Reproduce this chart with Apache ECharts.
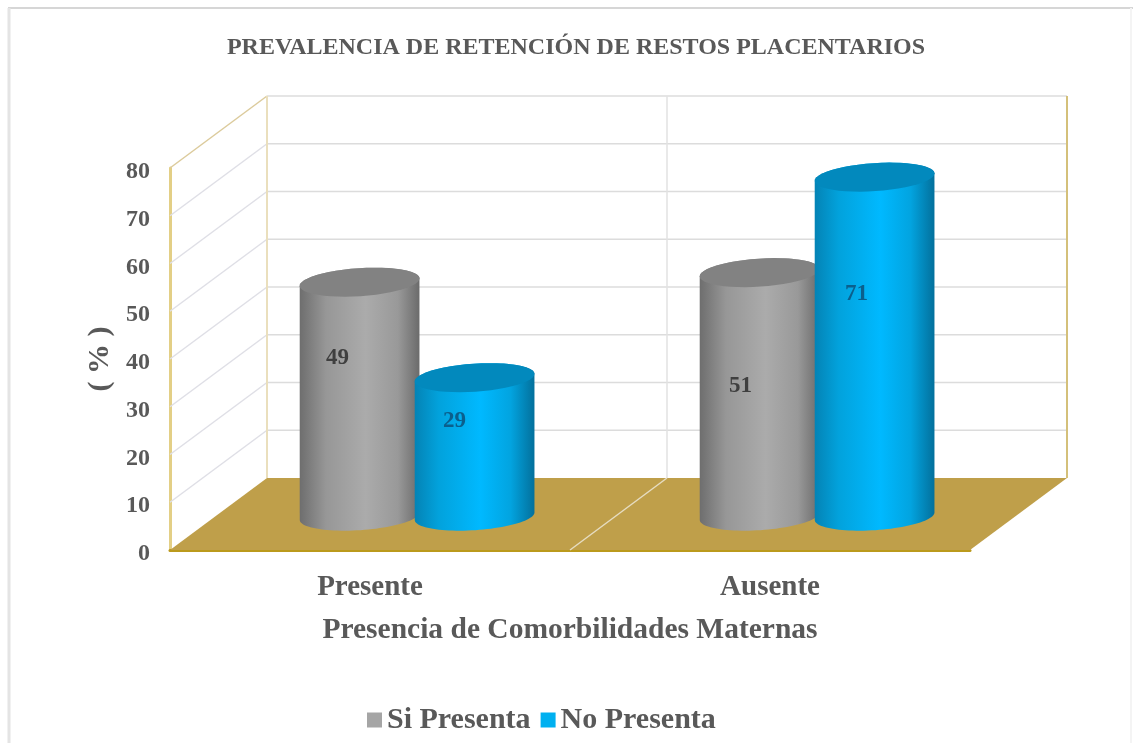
<!DOCTYPE html>
<html>
<head>
<meta charset="utf-8">
<title>Prevalencia</title>
<style>
  html, body { margin: 0; padding: 0; background: #fff; }
  #chart { width: 1133px; height: 743px; }
</style>
<script src="https://cdn.jsdelivr.net/npm/echarts@6/dist/echarts.min.js"></script>
</head>
<body>
<div id="chart"></div>
<script>
// data
const categories = ['Presente', 'Ausente']
const siPresenta = [49, 51]
const noPresenta = [29, 71]
const yTicks = [10, 20, 30, 40, 50, 60, 70, 80]

// fake 3d layout, in pixels
const DEPTH_X = 97
const DEPTH_Y = 72
const BAR_DEPTH = 0.47 // where the cylinders stand between front and back of the floor
const RX = 60
const RY = 14
const TILT = 0.066
const TEXT = '#595959'
const FONT = '"Liberation Serif", "Times New Roman", serif'
// the labels were placed by hand in the original: drop from the cylinder top, shift from its centre
const LABEL_DROP = [[76, 113], [43, 117]]
const LABEL_SHIFT = [[-22, -19], [-20, -18]]

const tiltedEllipse = (cx, cy, from, to) => {
  const pts = []
  for (let i = 0; i <= 48; i++) {
    const t = from + (to - from) * i / 48
    const ex = RX * Math.cos(t)
    const ey = RY * Math.sin(t)
    pts.push([cx + ex * Math.cos(TILT) + ey * Math.sin(TILT), cy - ex * Math.sin(TILT) + ey * Math.cos(TILT)])
  }
  return pts
}

const sideGradient = stops => new echarts.graphic.LinearGradient(0, 0, 1, 0, stops.map(s => ({ offset: s[0], color: s[1] })))

const cylinder = (barOffset, sideStops, topColor, labelColor, seriesIndex) => (params, api) => {
  const i = api.value(0)
  const base = api.coord([i, 0])
  const top = api.coord([i, api.value(1)])
  const cx = base[0] + DEPTH_X * BAR_DEPTH + barOffset
  const by = base[1] - DEPTH_Y * BAR_DEPTH
  const ty = top[1] - DEPTH_Y * BAR_DEPTH
  const body = tiltedEllipse(cx, ty, Math.PI, 2 * Math.PI).concat(tiltedEllipse(cx, by, 0, Math.PI))
  return {
    type: 'group',
    children: [
      { type: 'polygon', shape: { points: body }, style: { fill: sideGradient(sideStops) } },
      { type: 'polygon', shape: { points: tiltedEllipse(cx, ty, 0, 2 * Math.PI) }, style: { fill: topColor } },
      {
        type: 'text',
        x: cx + LABEL_SHIFT[seriesIndex][i],
        y: ty + LABEL_DROP[seriesIndex][i],
        style: {
          text: String(api.value(1)),
          fill: labelColor,
          font: 'bold 23px ' + FONT,
          align: 'center',
          verticalAlign: 'middle'
        }
      }
    ]
  }
}

const chart = echarts.init(document.getElementById('chart'), null, { renderer: 'canvas' })

chart.setOption({
  animation: false,
  backgroundColor: '#fff',
  title: {
    text: 'PREVALENCIA DE RETENCIÓN DE RESTOS PLACENTARIOS',
    left: 571,
    top: 31,
    textAlign: 'center',
    textStyle: { fontFamily: FONT, fontWeight: 'bold', fontSize: 24, color: TEXT }
  },
  graphic: [
    { type: 'line', shape: { x1: 8, y1: 8, x2: 1133, y2: 8 }, style: { stroke: '#d6d6d6', lineWidth: 2 } },
    { type: 'line', shape: { x1: 9, y1: 8, x2: 9, y2: 743 }, style: { stroke: '#e4e4e4', lineWidth: 3 } },
    { type: 'line', shape: { x1: 1131, y1: 8, x2: 1131, y2: 743 }, style: { stroke: '#f4f4f4', lineWidth: 2 } }
  ],
  legend: {
    data: ['Si Presenta', 'No Presenta'],
    left: 362,
    top: 700,
    icon: 'rect',
    itemWidth: 15,
    itemHeight: 15,
    itemGap: 10,
    textStyle: { fontFamily: FONT, fontWeight: 'bold', fontSize: 30, color: TEXT, padding: 0 }
  },
  grid: { left: 170, right: 163, top: 168, bottom: 193 },
  xAxis: {
    type: 'category',
    data: categories,
    axisTick: { show: false },
    axisLine: { show: true, lineStyle: { color: '#bb9a1c', width: 3 } },
    axisLabel: { fontFamily: FONT, fontWeight: 'bold', fontSize: 29, color: TEXT, margin: 23 },
    name: 'Presencia de Comorbilidades Maternas',
    nameLocation: 'middle',
    nameGap: 65,
    nameTextStyle: { fontFamily: FONT, fontWeight: 'bold', fontSize: 29.5, color: TEXT }
  },
  yAxis: {
    type: 'value',
    min: 0,
    max: 80,
    interval: 10,
    splitLine: { show: false },
    axisTick: { show: false },
    axisLine: { show: true, lineStyle: { color: '#e3cf86', width: 3 } },
    axisLabel: {
      margin: 20,
      formatter: '{tick|{value}}',
      rich: { tick: { fontFamily: FONT, fontWeight: 'bold', fontSize: 24, color: TEXT, padding: [8, 0, 0, 0] } }
    },
    name: '( % )',
    nameLocation: 'middle',
    nameGap: 55,
    nameTextStyle: { fontFamily: FONT, fontWeight: 'bold', fontSize: 30, color: TEXT }
  },
  series: [
    {
      // gridlines on the back wall and the side wall
      type: 'custom',
      silent: true,
      data: yTicks.map(t => [0, t]),
      renderItem: (params, api) => {
        const sys = params.coordSys
        const y = api.coord([0, api.value(1)])[1]
        const top = api.value(1) === 80
        return {
          type: 'group',
          children: [
            {
              type: 'line',
              shape: { x1: sys.x + DEPTH_X, y1: y - DEPTH_Y, x2: sys.x + sys.width + DEPTH_X, y2: y - DEPTH_Y },
              style: { stroke: '#dcdcdc', lineWidth: 1.5 }
            },
            {
              type: 'line',
              shape: { x1: sys.x, y1: y, x2: sys.x + DEPTH_X, y2: y - DEPTH_Y },
              style: { stroke: top ? '#dccb9c' : '#dfdfe6', lineWidth: 1.5 }
            }
          ]
        }
      }
    },
    {
      // floor and wall edges
      type: 'custom',
      silent: true,
      data: [[0, 0]],
      renderItem: (params, api) => {
        const sys = params.coordSys
        const left = sys.x
        const right = sys.x + sys.width
        const mid = left + sys.width / 2
        const floorY = api.coord([0, 0])[1]
        const topY = api.coord([0, 80])[1]
        return {
          type: 'group',
          children: [
            {
              type: 'line',
              shape: { x1: mid + DEPTH_X, y1: topY - DEPTH_Y, x2: mid + DEPTH_X, y2: floorY - DEPTH_Y },
              style: { stroke: '#e2e2e2', lineWidth: 1.5 }
            },
            {
              type: 'line',
              shape: { x1: left + DEPTH_X, y1: topY - DEPTH_Y, x2: left + DEPTH_X, y2: floorY - DEPTH_Y },
              style: { stroke: '#eadfbd', lineWidth: 2 }
            },
            {
              type: 'line',
              shape: { x1: right + DEPTH_X, y1: topY - DEPTH_Y, x2: right + DEPTH_X, y2: floorY - DEPTH_Y },
              style: { stroke: '#d4c07a', lineWidth: 2 }
            },
            {
              type: 'polygon',
              shape: { points: [[left, floorY], [right, floorY], [right + DEPTH_X, floorY - DEPTH_Y], [left + DEPTH_X, floorY - DEPTH_Y]] },
              style: { fill: '#bf9f4a' }
            },
            {
              type: 'line',
              shape: { x1: mid, y1: floorY, x2: mid + DEPTH_X, y2: floorY - DEPTH_Y },
              style: { stroke: '#e6dcc0', lineWidth: 1.5 }
            }
          ]
        }
      }
    },
    {
      name: 'Si Presenta',
      type: 'custom',
      silent: true,
      itemStyle: { color: '#a5a5a5' },
      data: siPresenta.map((v, i) => [i, v]),
      renderItem: cylinder(-56, [[0, '#6e6e6e'], [0.22, '#979797'], [0.55, '#ababab'], [0.82, '#999999'], [1, '#6b6b6b']], '#828282', '#3f3f3f', 0)
    },
    {
      name: 'No Presenta',
      type: 'custom',
      silent: true,
      itemStyle: { color: '#00b0f0' },
      data: noPresenta.map((v, i) => [i, v]),
      renderItem: cylinder(59, [[0, '#0483b5'], [0.2, '#02a2dc'], [0.55, '#00b9ff'], [0.8, '#02a4e0'], [1, '#03709c']], '#0289bd', '#0b5f8c', 1)
    }
  ]
})
</script>
</body>
</html>
